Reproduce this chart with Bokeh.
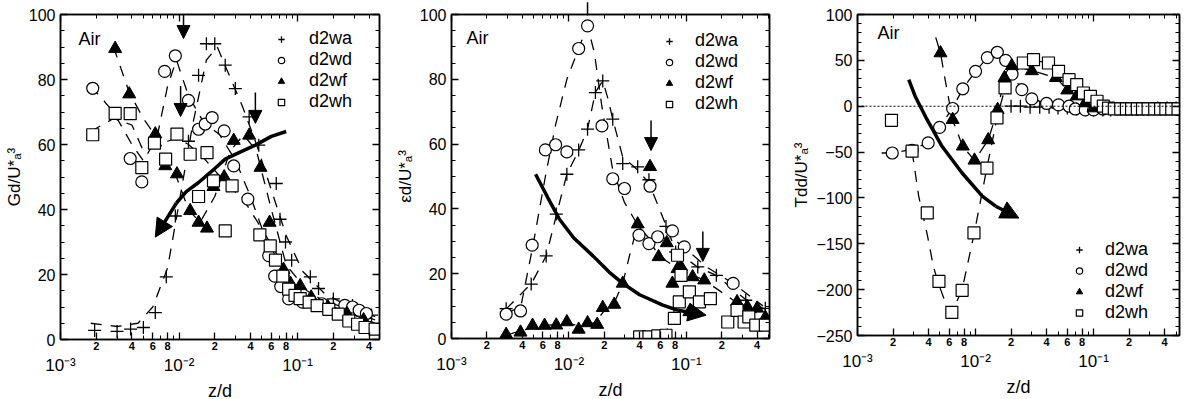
from bokeh.plotting import figure
from bokeh.models import (LogAxis, LinearAxis, FixedTicker, SingleIntervalTicker,
                          CustomJSTickFormatter, Range1d, Arrow, NormalHead, Span,
                          Legend, LegendItem, Label, PolyAnnotation)
from bokeh.layouts import row
from bokeh.embed import file_html
from bokeh.resources import INLINE

FONT = "Liberation Sans"

# ---------------- data ----------------
series_names = ["d2wa", "d2wd", "d2wf", "d2wh"]

x_decades = [0.001, 0.01, 0.1]
x_decade_labels = ["10⁻³", "10⁻²", "10⁻¹"]
x_label_ticks = [0.002, 0.004, 0.006, 0.008, 0.02, 0.04, 0.06, 0.08, 0.2, 0.4]
x_label_text = ["2", "4", "6", "8", "2", "4", "6", "8", "2", "4"]
x_minor_ticks = [0.002, 0.003, 0.004, 0.005, 0.006, 0.007, 0.008, 0.009,
                 0.02, 0.03, 0.04, 0.05, 0.06, 0.07, 0.08, 0.09,
                 0.2, 0.3, 0.4, 0.5]

# Panel 1: Gd/U*a^3
g_wa_x = [0.00194, 0.0030, 0.0039, 0.0050, 0.0063, 0.0078, 0.0093, 0.012, 0.0146, 0.017, 0.020,
          0.0245, 0.0298, 0.039, 0.047, 0.066, 0.071, 0.079, 0.089, 0.128, 0.15, 0.2, 0.29, 0.42]
g_wa_y = [2.8, 2.5, 3.2, 3.7, 8.3, 19.3, 38, 61, 81.3, 91, 91,
          84.4, 77.2, 68.5, 59.8, 48, 37, 30, 24.4, 19.3, 15.7, 12.5, 10.5, 7.5]
g_wd_x = [0.00187, 0.00387, 0.00485, 0.00755, 0.0093, 0.012, 0.0146, 0.0166, 0.019, 0.024,
          0.0289, 0.038, 0.057, 0.064, 0.072, 0.084, 0.11, 0.16, 0.25, 0.29, 0.33, 0.38]
g_wd_y = [77.3, 55.7, 48.5, 82.5, 87.3, 73.6, 64.7, 66.3, 68.3, 64.2,
          53.4, 43.2, 25.8, 19.5, 16.3, 12.5, 11.5, 11, 10.5, 10, 9, 8]
g_wf_x = [0.00289, 0.0038, 0.0063, 0.00765, 0.0096, 0.0124, 0.0146, 0.0172, 0.0195, 0.024,
          0.0289, 0.039, 0.0486, 0.058, 0.076, 0.087, 0.105, 0.13, 0.18, 0.26, 0.36]
g_wf_y = [89.5, 75.5, 63.2, 53.4, 50.9, 39.6, 36, 34.2, 47, 50,
          61.2, 62.8, 52.9, 36, 21.5, 17.2, 16.5, 13, 10, 8, 6]
g_wh_x = [0.00187, 0.00289, 0.00387, 0.00485, 0.0062, 0.0077, 0.0096, 0.0124, 0.0172, 0.0146,
          0.0195, 0.0245, 0.028, 0.048, 0.0587, 0.065, 0.075, 0.084, 0.095, 0.105, 0.125,
          0.146, 0.183, 0.22, 0.27, 0.32, 0.37, 0.45]
g_wh_y = [63, 69.6, 69.5, 52.9, 60.4, 55.5, 63.2, 57, 57.5, 44,
          48.8, 33.4, 47.3, 32.2, 28.8, 24.4, 19.5, 15.5, 13.6, 12.6, 11.5,
          10.4, 9.3, 7.8, 5.7, 4.7, 3.7, 3.2]
g_fit_wa_x = [0.0018, 0.003, 0.0045, 0.006, 0.008, 0.010, 0.013, 0.017, 0.021, 0.026, 0.034,
              0.045, 0.06, 0.08, 0.11, 0.17, 0.28, 0.45]
g_fit_wa_y = [5, 4, 5, 10, 22, 42, 66, 86, 90, 82, 72, 60, 46, 32, 21, 14, 10, 7]
g_fit_wd_x = [0.0018, 0.0028, 0.004, 0.005, 0.0065, 0.008, 0.0095, 0.012, 0.016, 0.022, 0.03,
              0.04, 0.055, 0.075, 0.1, 0.15, 0.25, 0.45]
g_fit_wd_y = [78, 70, 60, 55, 62, 78, 86, 75, 67, 63, 55, 44, 30, 19, 14, 12, 10, 6]
g_fit_wf_x = [0.0028, 0.0038, 0.005, 0.0065, 0.008, 0.0095, 0.012, 0.015, 0.02, 0.027, 0.035,
              0.045, 0.06, 0.08, 0.12, 0.2, 0.45]
g_fit_wf_y = [90, 76, 68, 62, 56, 50, 40, 36, 44, 58, 63, 58, 40, 23, 15, 10, 5]
g_fit_wh_x = [0.0018, 0.0028, 0.004, 0.005, 0.0062, 0.008, 0.0096, 0.012, 0.016, 0.02, 0.025,
              0.035, 0.05, 0.07, 0.1, 0.15, 0.25, 0.45]
g_fit_wh_y = [64, 68, 66, 58, 59, 61, 62, 60, 56, 52, 48, 43, 34, 25, 15, 11, 7, 3]
g_trend_x = [0.08, 0.06, 0.044, 0.032, 0.0245, 0.02, 0.0146, 0.0115, 0.0095]
g_trend_y = [64, 62.5, 59.8, 57.5, 55.5, 52.6, 48.3, 45.5, 42]
g_trend_tip = [0.0063, 31.5]
g_marks_x = [0.0109, 0.0103, 0.044]
g_marks_top = [102, 78, 76]
g_marks_tip = [92.6, 68.6, 66.5]

# Panel 2: epsilon d/U*a^3
e_wa_x = [0.00292, 0.00477, 0.0064, 0.0078, 0.0096, 0.0121, 0.0144, 0.0168, 0.0194, 0.0236,
          0.0287, 0.0385, 0.048, 0.067, 0.081, 0.125, 0.18, 0.32, 0.47]
e_wa_y = [9.2, 16.8, 25.5, 38.4, 50.7, 58.2, 64.6, 75.9, 79.5, 67.7,
          54, 53, 49, 34.6, 26.7, 22.1, 19.5, 11.8, 9.3]
e_wd_x = [0.00292, 0.00387, 0.00486, 0.0063, 0.0077, 0.0096, 0.0121, 0.0144, 0.0191, 0.0236,
          0.0297, 0.0395, 0.048, 0.049, 0.057, 0.076, 0.096, 0.25]
e_wd_y = [7.5, 8.5, 28.8, 58.2, 59.8, 57.6, 89.5, 96.5, 65.6, 49.3,
          46.3, 31.9, 29.3, 47, 31.4, 33.2, 28.3, 17]
e_wf_x = [0.00292, 0.00387, 0.0049, 0.0062, 0.0078, 0.0096, 0.0121, 0.0144, 0.0174, 0.0194,
          0.0243, 0.0287, 0.0385, 0.049, 0.058, 0.068, 0.076, 0.084, 0.09, 0.106, 0.113, 0.142,
          0.27, 0.33, 0.40, 0.47]
e_wf_y = [1.2, 1.9, 4.0, 4.0, 4.1, 5.1, 2.8, 4.8, 4.3, 9.5,
          10.5, 17, 35.3, 53, 25.2, 29.5, 17, 21.5, 22.1, 8.2, 19, 18,
          11.3, 9.8, 9.3, 6.5]
e_wh_x = [0.040, 0.048, 0.057, 0.067, 0.079, 0.084, 0.087, 0.090, 0.106, 0.129, 0.16, 0.225,
          0.27, 0.31, 0.34, 0.39, 0.47]
e_wh_y = [0.5, 0.5, 0.8, 1.0, 6.2, 25.7, 11.3, 19.5, 14.4, 11.3, 12.3, 5.1,
          8.7, 5.1, 6.7, 4.1, 4.1]
e_fit_wa_x = [0.0029, 0.0048, 0.0064, 0.0078, 0.0096, 0.0121, 0.0144, 0.0168, 0.0194, 0.0215,
              0.0236, 0.0287, 0.0385, 0.048, 0.067, 0.081, 0.125, 0.18, 0.32, 0.47]
e_fit_wa_y = [9, 17, 25.5, 38, 50.7, 58, 64.6, 76, 79.5, 74, 67.7, 56, 52, 48, 35, 27, 22,
              19.5, 12, 9]
e_fit_wd_x = [0.0029, 0.0039, 0.0049, 0.0063, 0.0077, 0.0096, 0.0121, 0.0144, 0.0165, 0.019,
              0.0236, 0.0297, 0.04, 0.048, 0.06, 0.076, 0.096, 0.15, 0.25, 0.45]
e_fit_wd_y = [7.5, 10, 28, 50, 66, 80, 89.5, 96.5, 88, 72, 52, 42, 34, 31, 31, 31, 28, 22,
              17, 10]
e_fit_wf_x = [0.0029, 0.004, 0.006, 0.009, 0.013, 0.017, 0.0194, 0.0243, 0.0287, 0.033,
              0.0385, 0.045, 0.055, 0.067, 0.09, 0.142, 0.27, 0.47]
e_fit_wf_y = [1, 2.5, 4, 4.5, 4, 5, 8, 11, 17, 26, 35, 32, 27, 24, 21, 18, 11, 6.5]
e_fit_wh_x = [0.040, 0.057, 0.067, 0.075, 0.084]
e_fit_wh_y = [0.5, 0.8, 2, 6, 12]
e_trend_x = [0.0052, 0.0066, 0.0083, 0.011, 0.016, 0.022, 0.0287, 0.04, 0.063, 0.085]
e_trend_y = [50.7, 43.5, 36.8, 31, 25.5, 20.5, 17, 13.5, 10.3, 8.7]
e_trend_tip = [0.147, 7.2]
e_marks_x = [0.0144, 0.050, 0.138]
e_marks_top = [104.6, 67.3, 33]
e_marks_tip = [99.8, 58, 23.8]

# Panel 3: T_d d/U*a^3
t_wa_x = [0.020, 0.024, 0.029, 0.035, 0.042, 0.050, 0.06, 0.072, 0.086, 0.1, 0.12, 0.14,
          0.17, 0.2, 0.24, 0.29, 0.35, 0.42, 0.5]
t_wa_y = [0, 0, -1, -1, -1, -2, -2, -3, -4, -4, -4, -4, -3, -3, -3, -3, -2, -2, -2]
t_wd_x = [0.00197, 0.0029, 0.00397, 0.00496, 0.0064, 0.0078, 0.0100, 0.0126, 0.0153, 0.0180,
          0.0204, 0.0247, 0.030, 0.040, 0.0505, 0.062, 0.070, 0.085, 0.1, 0.12]
t_wd_y = [-51, -48, -40, -23, -2.5, 19, 38, 53, 58.8, 50,
          35, 18, 8, 3, 1.5, 0, -3, -4, -4, -3]
t_wf_x = [0.00505, 0.0064, 0.0078, 0.0098, 0.0128, 0.0154, 0.0176, 0.0203, 0.030, 0.048,
          0.06, 0.072, 0.085, 0.1]
t_wf_y = [58, -14.7, -43.7, -59, -36.8, -3.8, 31, 44, 38.5, 31, 17.5, 11, 3.5, -2]
t_wh_x = [0.00194, 0.0029, 0.0039, 0.0049, 0.0063, 0.0077, 0.0097, 0.0125, 0.0152, 0.0178,
          0.0254, 0.031, 0.0415, 0.0505, 0.062, 0.072, 0.082, 0.094, 0.107, 0.121,
          0.134, 0.15, 0.17, 0.19, 0.21, 0.235, 0.26, 0.29, 0.33, 0.37, 0.41, 0.46, 0.52]
t_wh_y = [-15.4, -49, -116.4, -191, -224.7, -200.7, -138.2, -67.4, -12.8, 19.9,
          47.1, 50.7, 47.1, 38, 28.9, 23.5, 14.4, 10.8, 5.4, 0,
          -2, -3, -3, -3, -3, -3, -3, -3, -3, -3, -3, -3, -3]
t_fit_wd_x = [0.0016, 0.00197, 0.0029, 0.00397, 0.00496, 0.0064, 0.0078, 0.01, 0.0126, 0.0153,
              0.018, 0.0204, 0.0247, 0.03, 0.04, 0.06, 0.1, 0.2, 0.5]
t_fit_wd_y = [-51, -51, -47, -40, -23, -2, 19, 38, 53, 58, 50, 35, 18, 8, 3, 0, -4, -3, -2]
t_fit_wf_x = [0.0046, 0.00505, 0.0056, 0.0064, 0.0078, 0.0098, 0.0128, 0.0154, 0.0176,
              0.0203, 0.03, 0.048, 0.06, 0.072, 0.085, 0.1, 0.13]
t_fit_wf_y = [75, 58, 25, -15, -44, -59, -37, -4, 31, 44, 39, 31, 18, 11, 4, -2, -3]
t_fit_wh_x = [0.0029, 0.0033, 0.0039, 0.0044, 0.0049, 0.0056, 0.0063, 0.0077, 0.0097, 0.0125,
              0.0152, 0.0178, 0.025, 0.031, 0.042, 0.05, 0.062, 0.08, 0.1, 0.13, 0.2, 0.5]
t_fit_wh_y = [-49, -98, -140, -175, -195, -215, -225, -200, -140, -67, -13, 20, 47, 50, 47,
              38, 29, 16, 6, -2, -3, -3]
t_trend_x = [0.00272, 0.0031, 0.00389, 0.0052, 0.0077, 0.0114, 0.0148]
t_trend_y = [29, 10, -14.7, -43.7, -72.8, -98, -109]
t_trend_tip = [0.0233, -122]

# ---------------- drawing ----------------
MARKERS = {"d2wa": dict(marker="cross", size=13, line_color="black", line_width=1.3),
           "d2wd": dict(marker="circle", size=12, line_color="black", fill_color="white",
                        line_width=1.2),
           "d2wf": dict(marker="triangle", size=13, line_color="black", fill_color="black"),
           "d2wh": dict(marker="square", size=12, line_color="black", fill_color="white",
                        line_width=1.2)}

LOOKUP = """
for (let i = 0; i < tv.length; i++) {
  if (Math.abs(Math.log10(tick) - Math.log10(tv[i])) < 1e-6) return tl[i];
}
return "";
"""
BLANK = 'return "";'


def style_ticks(ax):
    ax.major_tick_in = 7
    ax.major_tick_out = 0
    ax.minor_tick_in = 4
    ax.minor_tick_out = 0
    ax.axis_line_width = 1.5
    ax.major_tick_line_width = 1.3


def make_panel(ylabel, xmax, yr, fw, fh, bl, br, y_interval, y_minor,
               fits, series, trend, tip, legend_loc, legend_h, label_standoff, air):
    p = figure(x_axis_type="log", x_range=Range1d(0.001, xmax), y_range=Range1d(*yr),
               frame_width=fw, frame_height=fh, output_backend="svg", toolbar_location=None,
               x_axis_location=None, y_axis_location=None,
               min_border_left=bl, min_border_right=br, min_border_top=14, min_border_bottom=0)
    p.xgrid.grid_line_color = None
    p.ygrid.grid_line_color = None
    p.outline_line_color = "black"
    p.outline_line_width = 1.5
    p.background_fill_color = "white"
    p.border_fill_color = "white"

    ax1 = LogAxis(ticker=FixedTicker(ticks=x_decades + x_label_ticks, minor_ticks=x_minor_ticks),
                  formatter=CustomJSTickFormatter(args=dict(tv=x_label_ticks, tl=x_label_text),
                                                  code=LOOKUP))
    style_ticks(ax1)
    ax1.major_label_standoff = 2
    ax1.major_label_text_font = FONT
    ax1.major_label_text_font_style = "bold"
    ax1.major_label_text_font_size = "11px"
    ax1.major_label_text_color = "black"
    p.add_layout(ax1, "below")

    ax2 = LogAxis(ticker=FixedTicker(ticks=x_decades, minor_ticks=[]),
                  formatter=CustomJSTickFormatter(args=dict(tv=x_decades, tl=x_decade_labels),
                                                  code=LOOKUP),
                  axis_label="z/d")
    ax2.axis_line_color = None
    ax2.major_tick_line_color = None
    ax2.minor_tick_line_color = None
    ax2.major_tick_in = 0
    ax2.major_tick_out = 0
    ax2.minor_tick_in = 0
    ax2.minor_tick_out = 0
    ax2.major_label_standoff = 3
    ax2.major_label_text_font = FONT
    ax2.major_label_text_font_size = "17px"
    ax2.major_label_text_color = "black"
    ax2.axis_label_standoff = 3
    ax2.axis_label_text_font = FONT
    ax2.axis_label_text_font_style = "normal"
    ax2.axis_label_text_font_size = "18px"
    ax2.axis_label_text_color = "black"
    p.add_layout(ax2, "below")

    axt = LogAxis(ticker=FixedTicker(ticks=x_decades, minor_ticks=x_minor_ticks),
                  formatter=CustomJSTickFormatter(code=BLANK))
    style_ticks(axt)
    axt.major_label_text_font_size = "2px"
    axt.major_label_standoff = 0
    p.add_layout(axt, "above")

    axl = LinearAxis(ticker=SingleIntervalTicker(interval=y_interval, num_minor_ticks=y_minor),
                     axis_label=ylabel)
    style_ticks(axl)
    axl.major_label_standoff = 5
    axl.major_label_text_font = FONT
    axl.major_label_text_font_size = "16px"
    axl.major_label_text_color = "black"
    axl.axis_label_standoff = 2
    axl.axis_label_text_font = FONT
    axl.axis_label_text_font_style = "normal"
    axl.axis_label_text_font_size = "17px"
    axl.axis_label_text_color = "black"
    p.add_layout(axl, "left")

    axr = LinearAxis(ticker=SingleIntervalTicker(interval=y_interval, num_minor_ticks=y_minor),
                     formatter=CustomJSTickFormatter(code=BLANK))
    style_ticks(axr)
    axr.major_label_text_font_size = "2px"
    axr.major_label_standoff = 0
    p.add_layout(axr, "right")

    for fx, fy in fits:
        p.line(fx, fy, line_color="black", line_width=1.3, line_dash="11 9")

    items = []
    for name, (sx, sy) in zip(series_names, series):
        r = p.scatter(sx, sy, **MARKERS[name])
        items.append(LegendItem(label=name, renderers=[r]))

    tx, ty = trend
    p.line(tx, ty, line_color="black", line_width=3.5)
    p.add_layout(Arrow(x_start=tx[-1], y_start=ty[-1], x_end=tip[0], y_end=tip[1],
                       line_width=3.5, line_color="black",
                       end=NormalHead(size=18, fill_color="black", line_color="black")))

    leg = Legend(items=items, location=legend_loc, orientation="vertical")
    leg.background_fill_alpha = 0
    leg.border_line_color = None
    leg.padding = 0
    leg.margin = 0
    leg.spacing = 0
    leg.glyph_width = 16
    leg.glyph_height = legend_h
    leg.label_height = legend_h
    leg.label_standoff = label_standoff
    leg.label_text_font = FONT
    leg.label_text_font_size = "18px"
    leg.label_text_color = "black"
    leg.label_text_baseline = "middle"
    p.add_layout(leg)

    p.add_layout(Label(x=air[0], y=air[1], text="Air", text_font=FONT, text_font_size="18px",
                       text_baseline="middle", text_align="left", text_color="black"))
    return p


def add_marks(p, xs, tops, tips, ytop):
    for x, y0, y1 in zip(xs, tops, tips):
        p.add_layout(Arrow(x_start=x, y_start=y0, x_end=x, y_end=y1, line_width=1.5,
                           line_color="black",
                           end=NormalHead(size=13, fill_color="black", line_color="black")))
        if y0 > ytop:
            # head drawn as an (unclipped) polygon when it sits above the frame
            f = 1.05
            p.add_layout(PolyAnnotation(xs=[x / f, x * f, x], ys=[y0, y0, y1],
                                        fill_color="black", fill_alpha=1,
                                        line_color="black", line_alpha=1))


p1 = make_panel("Gd/U*ₐ³", 0.49, (0, 100), 319, 325, 60, 13, 20, 4,
                [(g_fit_wa_x, g_fit_wa_y), (g_fit_wd_x, g_fit_wd_y),
                 (g_fit_wf_x, g_fit_wf_y), (g_fit_wh_x, g_fit_wh_y)],
                [(g_wa_x, g_wa_y), (g_wd_x, g_wd_y), (g_wf_x, g_wf_y), (g_wh_x, g_wh_y)],
                (g_trend_x, g_trend_y), g_trend_tip, (213, 227), 20, 20, (0.00142, 92.6))
add_marks(p1, g_marks_x, g_marks_top, g_marks_tip, 103)

p2 = make_panel("εd/U*ₐ³", 0.51, (0, 100), 318, 324, 55, 20, 20, 4,
                [(e_fit_wa_x, e_fit_wa_y), (e_fit_wd_x, e_fit_wd_y),
                 (e_fit_wf_x, e_fit_wf_y), (e_fit_wh_x, e_fit_wh_y)],
                [(e_wa_x, e_wa_y), (e_wd_x, e_wd_y), (e_wf_x, e_wf_y), (e_wh_x, e_wh_y)],
                (e_trend_x, e_trend_y), e_trend_tip, (210, 224), 20, 18, (0.00134, 92.6))
add_marks(p2, e_marks_x, e_marks_top, e_marks_tip, 103)

p3 = make_panel("Tdd/U*ₐ³", 0.535, (-250, 100), 322, 321, 63, 2, 50, 5,
                [(t_fit_wd_x, t_fit_wd_y), (t_fit_wf_x, t_fit_wf_y), (t_fit_wh_x, t_fit_wh_y)],
                [(t_wa_x, t_wa_y), (t_wd_x, t_wd_y), (t_wf_x, t_wf_y), (t_wh_x, t_wh_y)],
                (t_trend_x, t_trend_y), t_trend_tip, (214, 12), 21, 18, (0.00148, 79.8))
p3.add_layout(Span(location=0, dimension="width", line_color="black", line_width=1,
                   line_dash="2 2"))

layout = row(p1, p2, p3, spacing=0)
open("out.html", "w").write(file_html(layout, INLINE))
